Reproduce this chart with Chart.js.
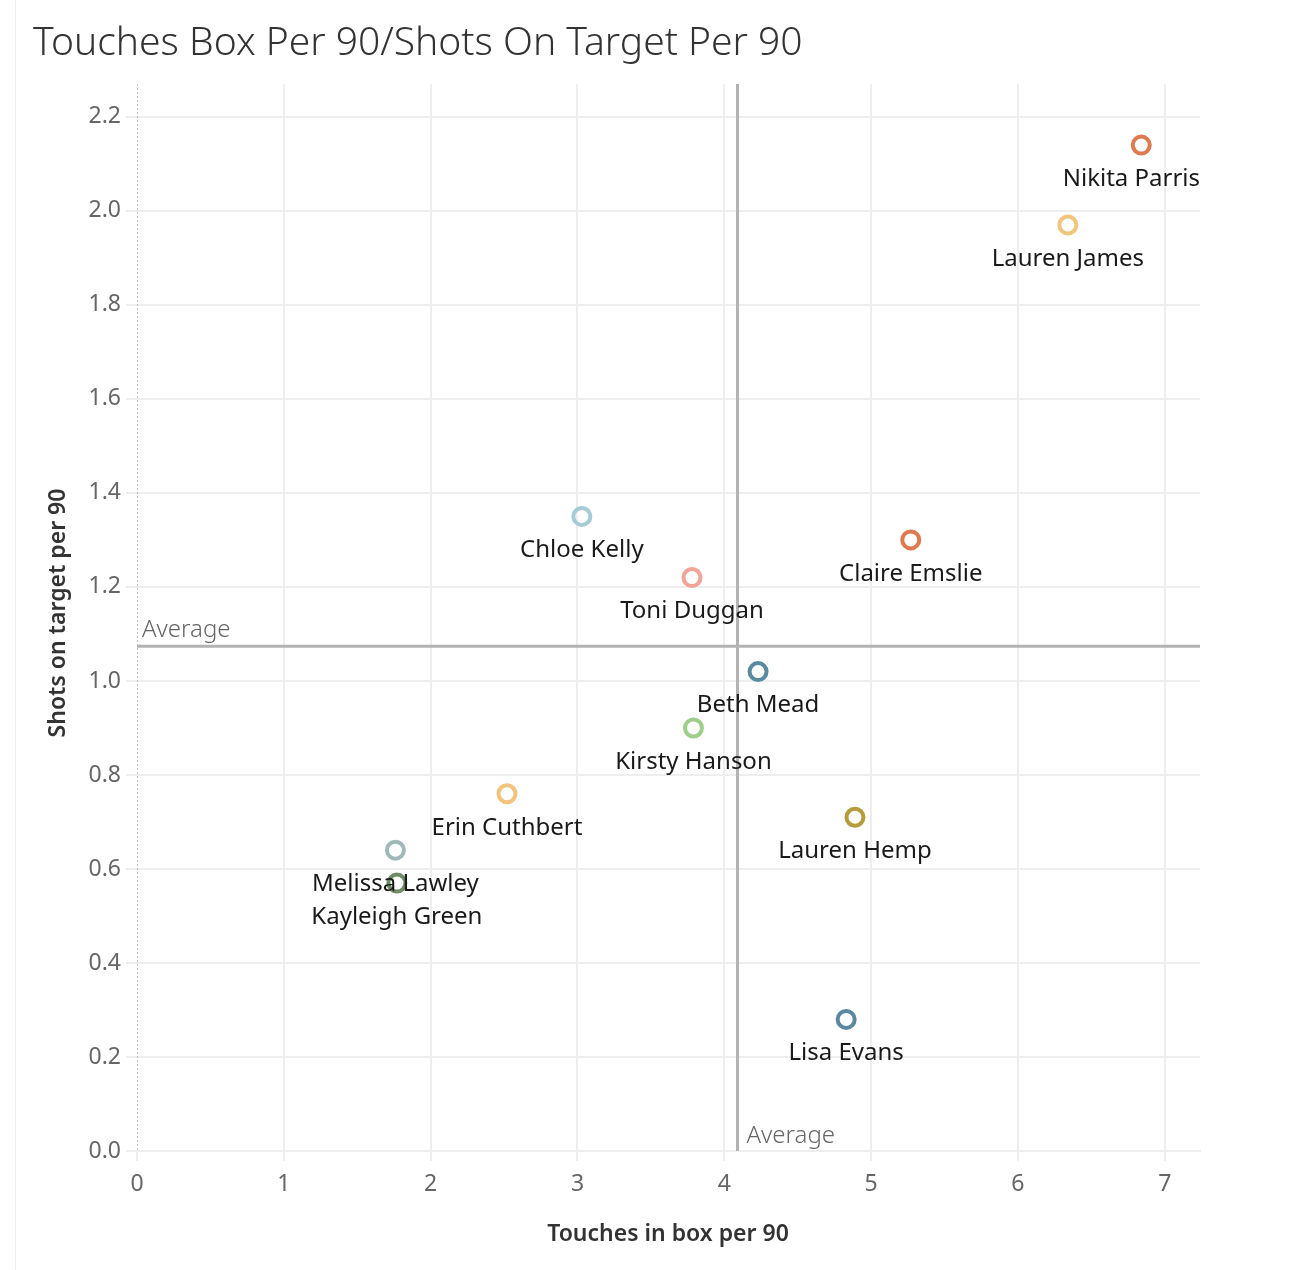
<!DOCTYPE html>
<html>
<head>
<meta charset="utf-8">
<script src="https://cdn.jsdelivr.net/npm/chart.js@4.4.1/dist/chart.umd.min.js"></script>
<style>
  html, body { margin: 0; padding: 0; background: #fff; }
  #wrap { position: relative; width: 1304px; height: 1270px; }
  #edge { position: absolute; left: 15px; top: 0; width: 1px; height: 1270px; background: #eeeeee; }
  canvas { position: absolute; left: 0; top: 0; }
</style>
</head>
<body>
<div id="wrap">
  <div id="edge"></div>
  <canvas id="c" width="1304" height="1270"></canvas>
</div>
<script>
const players = ["Nikita Parris","Lauren James","Chloe Kelly","Claire Emslie","Toni Duggan","Beth Mead","Kirsty Hanson","Erin Cuthbert","Lauren Hemp","Melissa Lawley","Kayleigh Green","Lisa Evans"];
const touchesInBox = [6.84, 6.34, 3.03, 5.27, 3.78, 4.23, 3.79, 2.52, 4.89, 1.76, 1.77, 4.83];
const shotsOnTarget = [2.14, 1.97, 1.35, 1.30, 1.22, 1.02, 0.90, 0.76, 0.71, 0.64, 0.57, 0.28];
const pointColors = ["#df7a50","#f0c67c","#a6cad6","#df7a50","#f2a498","#5a8aa1","#9dcf8a","#f2c37e","#b59b3b","#9fb9bb","#6f8c66","#5b88a0"];
const averageX = [4.09];
const averageY = [1.074];
const xTicks = [0,1,2,3,4,5,6,7];
const yTicks = [0.0,0.2,0.4,0.6,0.8,1.0,1.2,1.4,1.6,1.8,2.0,2.2];

const FONT = "'Noto Sans', 'Open Sans', sans-serif";

const overlay = {
  id: 'overlay',
  beforeDatasetsDraw(chart) {
    const {ctx, chartArea: a, scales: {x, y}} = chart;
    ctx.save();
    // dotted zero line on the left
    ctx.strokeStyle = '#c4c4c4';
    ctx.lineWidth = 1;
    ctx.setLineDash([2, 2]);
    const zx = Math.round(x.getPixelForValue(0)) + 0.5;
    ctx.beginPath(); ctx.moveTo(zx, a.top); ctx.lineTo(zx, a.bottom); ctx.stroke();
    ctx.setLineDash([]);
    ctx.strokeStyle = '#b3b3b3';
    ctx.lineWidth = 3;
    const ay = y.getPixelForValue(averageY[0]);
    ctx.beginPath(); ctx.moveTo(a.left, ay); ctx.lineTo(a.right, ay); ctx.stroke();
    const ax = x.getPixelForValue(averageX[0]);
    ctx.beginPath(); ctx.moveTo(ax, a.top); ctx.lineTo(ax, a.bottom); ctx.stroke();
    ctx.fillStyle = '#666';
    ctx.font = "300 24px " + FONT;
    ctx.textBaseline = 'alphabetic';
    ctx.textAlign = 'left';
    ctx.fillText('Average', a.left + 5, ay - 9);
    ctx.fillText('Average', ax + 9, a.bottom - 8);
    ctx.restore();
  },
  afterDatasetsDraw(chart) {
    const {ctx, chartArea: a, scales: {x, y}} = chart;
    ctx.save();
    ctx.fillStyle = '#1a1a1a';
    ctx.font = "24px " + FONT;
    ctx.textAlign = 'center';
    ctx.textBaseline = 'middle';
    players.forEach((n, i) => {
      let px = x.getPixelForValue(touchesInBox[i]);
      const py = y.getPixelForValue(shotsOnTarget[i]) + 34;
      const w = ctx.measureText(n).width;
      if (px + w / 2 > a.right) px = a.right - w / 2;
      ctx.fillText(n, px, py);
    });
    // title
    ctx.fillStyle = '#333';
    ctx.font = "300 39px " + FONT;
    ctx.textAlign = 'left';
    ctx.textBaseline = 'alphabetic';
    ctx.fillText('Touches Box Per 90/Shots On Target Per 90', 33, 55);
    // axis titles
    ctx.font = "600 23px " + FONT;
    ctx.fillStyle = '#333';
    ctx.textAlign = 'center';
    ctx.textBaseline = 'middle';
    ctx.fillText('Touches in box per 90', 668, 1234);
    ctx.translate(58, 613);
    ctx.rotate(-Math.PI / 2);
    ctx.fillText('Shots on target per 90', 0, 0);
    ctx.restore();
  }
};

new Chart(document.getElementById('c'), {
  type: 'scatter',
  data: {
    datasets: [{
      data: touchesInBox.map((v, i) => ({x: v, y: shotsOnTarget[i]})),
      borderColor: pointColors,
      backgroundColor: 'rgba(255,255,255,0)',
      pointRadius: 8.5,
      pointBorderWidth: 4,
      pointHoverRadius: 8.5
    }]
  },
  options: {
    responsive: false,
    animation: false,
    devicePixelRatio: 1,
    events: [],
    layout: { padding: { top: 84, right: 104, left: 0, bottom: 0 } },
    plugins: { legend: { display: false }, tooltip: { enabled: false }, title: { display: false } },
    scales: {
      x: {
        type: 'linear',
        min: 0, max: 7.24,
        afterFit(s) { s.height = 119; },
        afterBuildTicks(s) { s.ticks = xTicks.map(v => ({value: v})); },
        ticks: { color: '#666', font: { family: FONT, size: 23 }, padding: 10, callback: v => String(v) },
        grid: {
          color: c => (c.tick && c.tick.value === 0) ? 'rgba(0,0,0,0)' : '#eeeeee',
          lineWidth: 2, tickLength: 10, drawTicks: true, tickColor: '#eeeeee'
        },
        border: { display: true, color: '#eeeeee', width: 2 }
      },
      y: {
        type: 'linear',
        min: 0, max: 2.27,
        afterFit(s) { s.width = 137; },
        afterBuildTicks(s) { s.ticks = yTicks.map(v => ({value: v})); },
        ticks: { color: '#666', font: { family: FONT, size: 23 }, padding: 5, callback: v => v.toFixed(1) },
        grid: {
          color: '#eeeeee',
          lineWidth: 2, tickLength: 11, tickColor: '#eeeeee'
        },
        border: { display: false }
      }
    }
  },
  plugins: [overlay]
});
</script>
</body>
</html>
